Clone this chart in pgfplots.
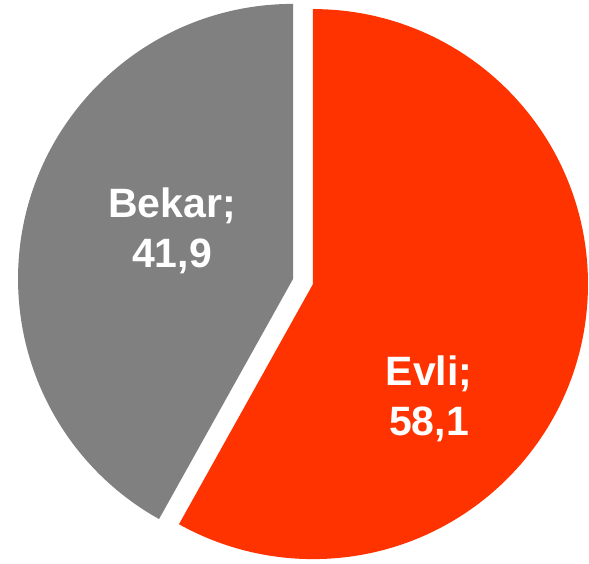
\documentclass[border=0pt]{standalone}
\usepackage{pgfplots}
\pgfplotsset{compat=1.18}
\usetikzlibrary{calc}
\usepackage{fontspec}
\setmainfont{Liberation Sans}
\definecolor{evli}{HTML}{FF3300}
\definecolor{bekar}{HTML}{808080}

% pie values (percent)
\def\evli{58.1}
\def\bekar{41.9}

\begin{document}
\begin{tikzpicture}
\begin{axis}[hide axis, x=1pt, y=1pt, enlargelimits=false,
    xmin=0, xmax=589, ymin=0, ymax=563, clip=false]
\path (axis cs:0,0) rectangle (axis cs:589,563);
% centre, radius and explode offset in axis units (1 unit = 1pt)
\pgfmathsetmacro{\cx}{303}
\pgfmathsetmacro{\cy}{281.5}
\pgfmathsetmacro{\r}{275}
\pgfmathsetmacro{\ex}{10.3}
\pgfmathsetmacro{\aend}{90-\evli*3.6}
\pgfmathsetmacro{\amid}{90-\evli*1.8}
% Evli slice, exploded along its bisector
\fill[evli] ($(axis cs:\cx,\cy)+(\amid:\ex pt)$) -- ++(90:\r pt)
    arc[start angle=90, end angle=\aend, radius=\r pt] -- cycle;
% Bekar slice
\pgfmathsetmacro{\bmid}{\amid+180}
\fill[bekar] ($(axis cs:\cx,\cy)+(\bmid:\ex pt)$) -- ++(90:\r pt)
    arc[start angle=90, end angle=\aend+360, radius=\r pt] -- cycle;
\node[white, font=\fontsize{41}{50}\selectfont\bfseries, align=center]
    at (axis cs:172,332) {Bekar;\\41,9};
\node[white, font=\fontsize{41}{50}\selectfont\bfseries, align=center]
    at (axis cs:429,164) {Evli;\\58,1};
\end{axis}
\end{tikzpicture}
\end{document}
